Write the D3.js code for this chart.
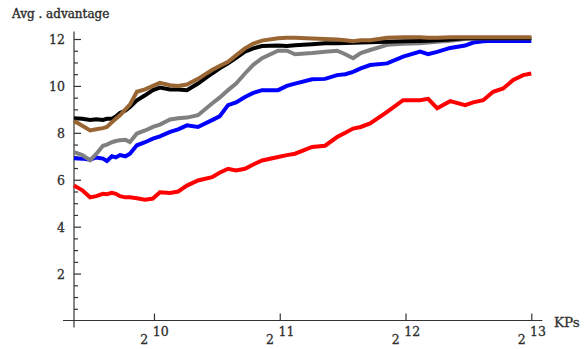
<!DOCTYPE html>
<html>
<head>
  <meta charset="utf-8">
  <script src="https://d3js.org/d3.v7.min.js"></script>
  <style>
    body { margin: 0; background: #fff; }
    text { font-family: "DejaVu Serif", serif; fill: #2e2e2e; }
  </style>
</head>
<body>
  <svg id="chart" width="584" height="349"></svg>
  <script>
    // KPs sample points (x axis, log2 scale)
    const kps = [659, 690, 720, 745, 773, 790, 812, 830, 849, 875, 897, 932, 975, 1018, 1058, 1119, 1170, 1228, 1305,
      1410, 1470, 1540, 1610, 1691, 1770, 1858, 2029, 2130, 2228, 2448, 2629, 2809, 2940, 3068, 3200, 3370,
      3701, 4042, 4439, 4640, 4876, 5238, 5690, 5946, 6283, 6640, 7016, 7414, 7835, 8192];

    // avg. advantage for each series
    const redVals = [5.75, 5.55, 5.25, 5.3, 5.4, 5.38, 5.44, 5.4, 5.3, 5.25, 5.25, 5.21, 5.15, 5.2, 5.47, 5.44, 5.5, 5.75, 5.97,
      6.11, 6.3, 6.47, 6.4, 6.47, 6.65, 6.82, 6.97, 7.05, 7.11, 7.4, 7.45, 7.82, 8.0, 8.18, 8.25, 8.4,
      8.89, 9.39, 9.39, 9.45, 9.05, 9.35, 9.18, 9.3, 9.39, 9.75, 9.89, 10.25, 10.46, 10.53];
    const blueVals = [6.92, 6.9, 6.85, 6.95, 6.9, 6.8, 7.0, 6.95, 7.05, 7.0, 7.11, 7.47, 7.6, 7.75, 7.85, 8.04, 8.15, 8.32, 8.25,
      8.54, 8.7, 9.18, 9.3, 9.53, 9.7, 9.82, 9.82, 10.0, 10.1, 10.28, 10.3, 10.46, 10.5, 10.6, 10.75, 10.89,
      10.96, 11.25, 11.46, 11.35, 11.45, 11.62, 11.72, 11.85, 11.9, 11.92, 11.92, 11.92, 11.92, 11.92];
    const grayVals = [7.18, 7.05, 6.83, 7.1, 7.45, 7.5, 7.6, 7.65, 7.68, 7.7, 7.61, 7.97, 8.1, 8.25, 8.35, 8.57, 8.62, 8.65, 8.75,
      9.25, 9.5, 9.82, 10.1, 10.53, 10.9, 11.18, 11.5, 11.5, 11.35, 11.4, 11.46, 11.5, 11.35, 11.18, 11.4, 11.53,
      11.75, 11.8, 11.82, 11.85, 11.88, 11.93, 12.0, 12.02, 12.03, 12.03, 12.03, 12.03, 12.03, 12.03];
    const blackVals = [8.62, 8.6, 8.55, 8.58, 8.55, 8.6, 8.6, 8.7, 8.85, 8.95, 9.1, 9.39, 9.6, 9.82, 9.93, 9.85, 9.85, 9.82, 10.1,
      10.53, 10.75, 10.96, 11.2, 11.46, 11.6, 11.7, 11.72, 11.7, 11.73, 11.78, 11.82, 11.82, 11.83, 11.84, 11.85, 11.86,
      11.88, 11.9, 11.92, 11.93, 11.95, 11.98, 12.03, 12.03, 12.03, 12.03, 12.03, 12.03, 12.03, 12.03];
    const brownVals = [8.5, 8.3, 8.1, 8.15, 8.2, 8.25, 8.45, 8.6, 8.75, 9.0, 9.2, 9.75, 9.85, 10.0, 10.13, 10.03, 10.0, 10.06, 10.3,
      10.68, 10.85, 11.03, 11.3, 11.6, 11.8, 11.93, 12.03, 12.05, 12.05, 12.02, 12.0, 11.98, 11.95, 11.9, 11.95, 11.95,
      12.05, 12.07, 12.07, 12.05, 12.05, 12.07, 12.07, 12.07, 12.07, 12.07, 12.07, 12.07, 12.07, 12.07];

    const seriesNames = ["red", "blue", "gray", "black", "brown"];
    const seriesColors = ["#ff0000", "#0000ff", "#808080", "#000000", "#996633"];
    const seriesValues = [redVals, blueVals, grayVals, blackVals, brownVals];

    const yMajorTicks = [2, 4, 6, 8, 10, 12];
    const yMinorTicks = d3.range(0.5, 12, 0.5).filter(v => v % 2 !== 0);
    const xTicks = [1024, 2048, 4096, 8192];

    const svg = d3.select("svg#chart");

    const xScale = d3.scaleLog().base(2).domain([659, 8192]).range([74, 531.3]);
    const yScale = d3.scaleLinear().domain([0, 12]).range([320.5, 39]);

    // axis lines (cross a little past each other, like the original)
    const axes = svg.append("g").attr("id", "axes");
    axes.append("line")
      .attr("x1", xScale(659)).attr("x2", xScale(659))
      .attr("y1", yScale(12) - 7.5).attr("y2", yScale(0) + 7)
      .attr("stroke", "#333").attr("stroke-width", 1.2);
    axes.append("line")
      .attr("x1", xScale(659) - 11).attr("x2", xScale(8192) + 11)
      .attr("y1", yScale(0)).attr("y2", yScale(0))
      .attr("stroke", "#333").attr("stroke-width", 1.2);

    // y axis: major + minor ticks pointing inward
    let leftAxis = d3.axisLeft(yScale).tickValues(yMajorTicks).tickSize(-7).tickPadding(9);
    let yAxisG = axes.append("g")
      .attr("transform", `translate(${xScale(659)},0)`)
      .call(leftAxis);
    let leftMinor = d3.axisLeft(yScale).tickValues(yMinorTicks).tickSize(-4).tickFormat("");
    let yMinorG = axes.append("g")
      .attr("transform", `translate(${xScale(659)},0)`)
      .call(leftMinor);

    // x axis: ticks pointing up, labels like 2^10
    let bottomAxis = d3.axisBottom(xScale).tickValues(xTicks).tickSize(-7).tickFormat("");
    let xAxisG = axes.append("g")
      .attr("transform", `translate(0,${yScale(0)})`)
      .call(bottomAxis);

    [yAxisG, yMinorG, xAxisG].forEach(g => {
      g.select(".domain").remove();
      g.selectAll(".tick line").attr("stroke", "#333").attr("stroke-width", 1.2);
    });
    yAxisG.selectAll(".tick text")
      .attr("font-family", "DejaVu Serif").attr("font-size", 12.5).attr("fill", "#2e2e2e")
      .attr("stroke", "#2e2e2e").attr("stroke-width", 0.3)
      .attr("dy", "0.36em");

    xAxisG.selectAll(".tick text")
      .attr("font-family", "DejaVu Serif").attr("font-size", 12.5).attr("fill", "#2e2e2e")
      .attr("stroke", "#2e2e2e").attr("stroke-width", 0.3)
      .attr("y", 23).attr("dy", 0)
      .each(function (d) {
        const t = d3.select(this);
        t.append("tspan").text("2");
        t.append("tspan").attr("dx", 4.5).attr("dy", -7.5).text(Math.log2(d));
      });

    // labels
    svg.append("text")
      .attr("x", 12).attr("y", 18)
      .attr("font-size", 12)
      .attr("stroke", "#2e2e2e").attr("stroke-width", 0.4)
      .text("Avg . advantage");
    svg.append("text")
      .attr("x", 554).attr("y", 326.5)
      .attr("font-size", 13.5)
      .attr("stroke", "#2e2e2e").attr("stroke-width", 0.3)
      .text("KPs");

    // lines
    const line = d3.line()
      .x((d, i) => xScale(kps[i]))
      .y(d => yScale(d));

    let chartArea = svg.append("g").attr("id", "lines");
    seriesValues.forEach((vals, i) => {
      chartArea.append("path")
        .datum(vals)
        .attr("class", "series " + seriesNames[i])
        .attr("d", line)
        .attr("fill", "none")
        .attr("stroke", seriesColors[i])
        .attr("stroke-width", 4)
        .attr("stroke-linejoin", "miter");
    });
  </script>
</body>
</html>
